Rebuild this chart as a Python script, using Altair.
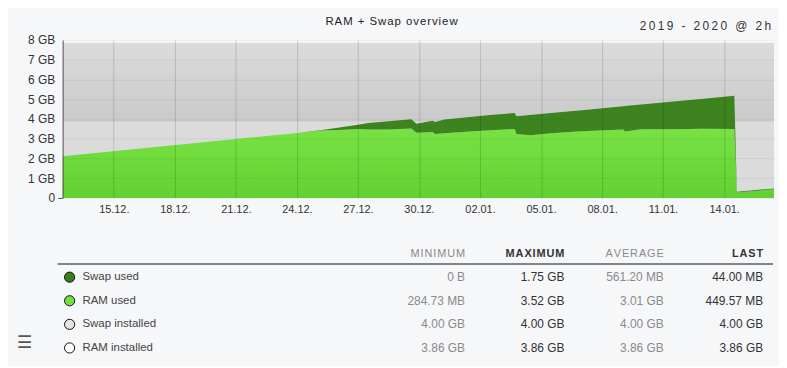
import altair as alt
import pandas as pd

# ---------------- data ----------------
times = ["2019-12-12T11:40", "2019-12-24T00:00", "2019-12-25T06:00", "2019-12-26T02:00",
         "2019-12-27T00:00", "2019-12-27T12:00", "2019-12-28T12:00", "2019-12-29T15:00",
         "2019-12-29T21:00", "2019-12-30T16:00", "2019-12-30T19:00", "2019-12-31T06:00",
         "2020-01-01T12:00", "2020-01-02T12:00", "2020-01-03T17:00", "2020-01-03T19:00",
         "2020-01-04T11:00", "2020-01-05T12:00", "2020-01-07T00:00", "2020-01-09T01:00",
         "2020-01-09T03:00", "2020-01-09T22:00", "2020-01-11T12:00", "2020-01-13T00:00",
         "2020-01-14T12:00", "2020-01-14T15:00", "2020-01-16T10:50"]
ram_used = [2.11, 3.29, 3.42, 3.44, 3.49, 3.46, 3.47, 3.52, 3.30, 3.34, 3.24, 3.27,
            3.37, 3.43, 3.49, 3.24, 3.17, 3.27, 3.38, 3.46, 3.36, 3.48, 3.48, 3.50,
            3.49, 0.27, 0.44]
swap_used = [0.00, 0.00, 0.02, 0.13, 0.22, 0.33, 0.41, 0.47, 0.46, 0.57, 0.61, 0.70,
             0.73, 0.77, 0.81, 0.89, 1.03, 1.03, 1.06, 1.18, 1.29, 1.25, 1.40, 1.52,
             1.68, 0.04, 0.04]

inst_times = ["2019-12-12T11:40", "2020-01-16T10:50"]
ram_installed = [3.86, 3.86]
swap_installed = [4.00, 4.00]

x_tick_dates = ["2019-12-15", "2019-12-18", "2019-12-21", "2019-12-24", "2019-12-27",
                "2019-12-30", "2020-01-02", "2020-01-05", "2020-01-08", "2020-01-11",
                "2020-01-14"]
y_ticks = [0, 1, 2, 3, 4, 5, 6, 7, 8]

title_text = "RAM + Swap overview"
range_text = "2019 - 2020 @ 2h"

series = ["Swap used", "RAM used", "Swap installed", "RAM installed"]
swatch = ["#3b7d1e", "#72e040", "#e3e3e3", "#ffffff"]
columns = ["MINIMUM", "MAXIMUM", "AVERAGE", "LAST"]
minimum = ["0 B", "284.73 MB", "4.00 GB", "3.86 GB"]
maximum = ["1.75 GB", "3.52 GB", "4.00 GB", "3.86 GB"]
average = ["561.20 MB", "3.01 GB", "4.00 GB", "3.86 GB"]
last = ["44.00 MB", "449.57 MB", "4.00 GB", "3.86 GB"]

# ---------------- helpers ----------------
HS = "\u200a"
TS = "\u2009"


def spaced(s, sep):
    return sep.join(list(s))


def dt(s):
    p = pd.Timestamp(s)
    return alt.DateTime(year=p.year, month=p.month, date=p.day, hours=p.hour, minutes=p.minute)


df = pd.DataFrame({"t": times, "ram": ram_used, "swap": swap_used})
df["total"] = df["ram"] + df["swap"]
inst = pd.DataFrame({"t": inst_times, "ram_i": ram_installed, "swap_i": swap_installed})
inst["total_i"] = inst["ram_i"] + inst["swap_i"]

x_scale = alt.Scale(domain=[dt(times[0]), dt(times[-1])], nice=False)
x_axis = alt.Axis(values=[dt(d) for d in x_tick_dates],
                  labelExpr="timeFormat(datum.value, '%d.%m.')",
                  title=None, domain=False, ticks=False, grid=True,
                  gridColor="#000", gridOpacity=0.15, labelFontSize=11,
                  labelColor="#333", labelPadding=6, zindex=1)
y_scale = alt.Scale(domain=[0, 8], nice=False)
y_axis = alt.Axis(values=y_ticks,
                  labelExpr="datum.value == 0 ? '0' : datum.value + ' GB'",
                  title=None, domainColor="#555", grid=True, gridColor="#000",
                  gridOpacity=0.06, tickColor="#555", tickSize=5,
                  tickOpacity={"condition": {"test": "datum.value === 0", "value": 1}, "value": 0},
                  labelFontSize=12, labelColor="#333", labelPadding=3, zindex=1)

X = alt.X("t:T", scale=x_scale, axis=x_axis)

g_swap_inst = alt.Gradient(gradient="linear", x1=1, x2=1, y1=0, y2=1,
                           stops=[alt.GradientStop(color="#dbdbdb", offset=0),
                                  alt.GradientStop(color="#cacaca", offset=1)])
g_ram = alt.Gradient(gradient="linear", x1=1, x2=1, y1=0, y2=1,
                     stops=[alt.GradientStop(color="#78e243", offset=0),
                            alt.GradientStop(color="#62d033", offset=1)])

ram_inst_area = alt.Chart(inst).mark_area(color="#dbdbdb").encode(
    x=X, y=alt.Y("ram_i:Q", scale=y_scale, axis=y_axis))
swap_inst_area = alt.Chart(inst).mark_area(color=g_swap_inst).encode(
    x=X, y=alt.Y("total_i:Q", scale=y_scale, axis=y_axis), y2="ram_i:Q")
ram_area = alt.Chart(df).mark_area(color=g_ram).encode(
    x=X, y=alt.Y("ram:Q", scale=y_scale, axis=y_axis))
swap_area = alt.Chart(df).mark_area(color="#3d8420").encode(
    x=X, y=alt.Y("total:Q", scale=y_scale, axis=y_axis), y2="ram:Q")

title_mark = alt.Chart(pd.DataFrame({"s": [spaced(title_text, HS)]})).mark_text(
    fontSize=11.5, color="#222", align="center", baseline="middle").encode(
    text="s:N", x=alt.value(331), y=alt.value(-18))
range_mark = alt.Chart(pd.DataFrame({"s": [spaced(range_text, TS)]})).mark_text(
    fontSize=12, color="#333", align="right", baseline="middle").encode(
    text="s:N", x=alt.value(713), y=alt.value(-14))

top = alt.layer(ram_inst_area, swap_inst_area, ram_area, swap_area, title_mark, range_mark).properties(
    width=716, height=159, view=alt.ViewBackground(fill="#fafafa", stroke=None))

# ---------------- table ----------------
rows = ["header"] + series
col_colors = {"MINIMUM": "#8a8a8a", "MAXIMUM": "#333333", "AVERAGE": "#8a8a8a", "LAST": "#333333"}
col_weight = {"MINIMUM": "normal", "MAXIMUM": "bold", "AVERAGE": "normal", "LAST": "bold"}

vals = []
for i, s in enumerate(series):
    for c, arr in zip(columns, [minimum, maximum, average, last]):
        vals.append({"row": s, "col": c, "txt": arr[i], "clr": col_colors[c]})
vals = pd.DataFrame(vals)
hdr = pd.DataFrame({"row": ["header"] * 4, "col": columns,
                    "txt": [spaced(c, HS) for c in columns],
                    "clr": [col_colors[c] for c in columns],
                    "w": [col_weight[c] for c in columns]})
leg = pd.DataFrame({"row": series, "sw": swatch})

TX = alt.X("col:N", scale=alt.Scale(type="point", domain=columns, range=[405, 705], padding=0), axis=None)
TY = alt.Y("row:N", scale=alt.Scale(type="point", domain=rows, range=[0, 95], padding=0), axis=None)

hdr_normal = alt.Chart(hdr[hdr.w == "normal"]).mark_text(fontSize=11, align="right", baseline="middle").encode(
    x=TX, y=TY, text="txt:N", color=alt.Color("clr:N", scale=None))
hdr_bold = alt.Chart(hdr[hdr.w == "bold"]).mark_text(fontSize=11, fontWeight="bold", align="right", baseline="middle").encode(
    x=TX, y=TY, text="txt:N", color=alt.Color("clr:N", scale=None))
val_text = alt.Chart(vals).mark_text(fontSize=12, align="right", baseline="middle").encode(
    x=TX, y=TY, text="txt:N", color=alt.Color("clr:N", scale=None))
leg_text = alt.Chart(leg).mark_text(fontSize=11.5, align="left", baseline="middle", color="#444").encode(
    x=alt.value(20), y=TY, text="row:N")
leg_sw = alt.Chart(leg).mark_point(shape="circle", filled=True, size=105, stroke="#111",
                                   strokeWidth=1, opacity=1).encode(
    x=alt.value(7), y=TY, fill=alt.Fill("sw:N", scale=None))
rule = alt.Chart(pd.DataFrame({"a": [0]})).mark_rule(color="#111", strokeWidth=1).encode(
    x=alt.value(-5), x2=alt.value(715), y=alt.value(10.5))
menu = alt.Chart(pd.DataFrame({"s": ["\u2630"]})).mark_text(fontSize=17, color="#555", align="center",
                                                          baseline="middle").encode(
    text="s:N", x=alt.value(-38), y=alt.value(90))

table = alt.layer(rule, hdr_normal, hdr_bold, val_text, leg_sw, leg_text, menu).properties(
    width=716, height=95, view=alt.ViewBackground(fill=None, stroke=None))

chart = alt.vconcat(top, table, spacing=33).properties(
    background="#f6f7f9",
    padding={"left": 9, "top": 7, "right": 5, "bottom": 9},
).configure(font="Liberation Sans").configure_view(stroke=None)

chart.save("out.html", embed_options={"renderer": "svg", "actions": False})
